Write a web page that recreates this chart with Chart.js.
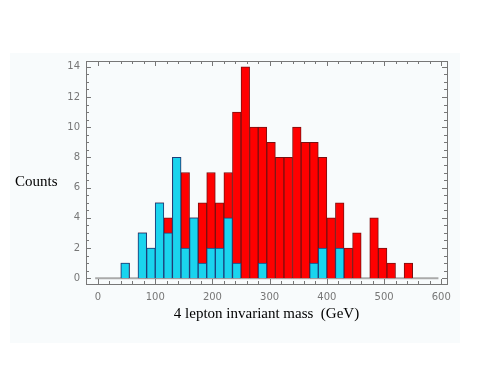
<!DOCTYPE html>
<html>
<head>
<meta charset="utf-8">
<script src="https://cdn.jsdelivr.net/npm/chart.js@4"></script>
<style>
  body { margin: 0; background: #fff; }
</style>
</head>
<body>
<canvas id="chart" width="479" height="370"></canvas>
<script>
// bin centres (15 GeV bins starting at 40)
const binStart = [40,55,70,85,100,115,130,145,160,175,190,205,220,235,250,265,280,295,310,325,340,355,370,385,400,415,430,445,460,475,490,505,520,535];
// total counts (red) and background counts (cyan)
const totalCounts = [1,0,3,2,5,4,8,7,4,5,7,5,7,11,14,10,10,9,8,8,10,9,9,8,4,5,2,3,0,4,2,1,0,1];
const bgCounts    = [1,0,3,2,5,3,8,2,4,1,2,2,4,1,0,0,1,0,0,0,0,0,1,2,0,2,0,0,0,0,0,0,0,0];
const baseline = [-5, 595];
const xTicks = [0,100,200,300,400,500,600];
const yTicks = [0,2,4,6,8,10,12,14];

const binWidth = 15;
const toPts = arr => arr.map((v, i) => ({x: binStart[i] + binWidth / 2, y: v}));

const frame = {
  id: 'frame',
  beforeDraw(chart) {
    const c = chart.ctx;
    c.save();
    c.fillStyle = '#f8fbfc';
    c.fillRect(10, 53, 450, 290);
    c.restore();
  },
  afterDraw(chart) {
    const c = chart.ctx, a = chart.chartArea;
    const xs = chart.scales.x, ys = chart.scales.y;
    c.save();
    c.strokeStyle = '#777';
    c.lineWidth = 1;
    c.strokeRect(a.left + 0.5, a.top + 0.5, a.right - a.left, a.bottom - a.top);
    c.beginPath();
    for (let v = 0; v <= 600; v += 20) {
      const px = Math.round(xs.getPixelForValue(v)) + 0.5;
      const len = v % 100 === 0 ? 5 : 3;
      c.moveTo(px, a.bottom); c.lineTo(px, a.bottom - len);
      c.moveTo(px, a.top); c.lineTo(px, a.top + len);
    }
    for (let v = 0; v <= 14; v += 0.5) {
      const py = Math.round(ys.getPixelForValue(v)) + 0.5;
      const len = v % 2 === 0 ? 5 : 3;
      c.moveTo(a.left, py); c.lineTo(a.left + len, py);
      c.moveTo(a.right, py); c.lineTo(a.right - len, py);
    }
    c.stroke();
    c.fillStyle = '#000';
    c.font = '15px "Liberation Serif", serif';
    c.textBaseline = 'middle';
    c.textAlign = 'left';
    c.fillText('Counts', 15, 182);
    c.textAlign = 'center';
    c.fillText('4 lepton invariant mass  (GeV)', (a.left + a.right) / 2, 314);
    c.restore();
  }
};

new Chart(document.getElementById('chart'), {
  type: 'bar',
  data: {
    datasets: [
      {
        label: 'background',
        data: toPts(bgCounts),
        backgroundColor: '#1ad4ee',
        borderColor: '#1d3f7a',
        borderWidth: 1,
        grouped: false,
        order: 0
      },
      {
        label: 'total',
        data: toPts(totalCounts),
        backgroundColor: '#ff0000',
        borderColor: '#7a1010',
        borderWidth: 1,
        grouped: false,
        order: 1
      },
      {
        type: 'line',
        label: 'baseline',
        data: baseline.map(x => ({x: x, y: 0})),
        borderColor: '#aaaaaa',
        borderWidth: 2,
        pointRadius: 0,
        order: 2
      }
    ]
  },
  options: {
    responsive: false,
    animation: false,
    categoryPercentage: 1,
    barPercentage: 1,
    layout: { padding: { left: 0, right: 32, top: 61, bottom: 0 } },
    plugins: { legend: { display: false }, tooltip: { enabled: false } },
    scales: {
      x: {
        type: 'linear',
        min: -21,
        max: 610,
        offset: false,
        grid: { display: false, drawTicks: false, offset: false },
        border: { display: false },
        afterBuildTicks: s => { s.ticks = xTicks.map(v => ({value: v})); },
        afterFit: s => { s.height = 86; },
        ticks: { color: '#777', font: { family: 'DejaVu Sans', size: 10 }, padding: 7, maxRotation: 0 }
      },
      y: {
        min: -0.38,
        max: 14.38,
        grid: { display: false, drawTicks: false },
        border: { display: false },
        afterBuildTicks: s => { s.ticks = yTicks.map(v => ({value: v})); },
        afterFit: s => { s.width = 86; },
        ticks: { color: '#777', font: { family: 'DejaVu Sans', size: 10 }, padding: 6 }
      }
    }
  },
  plugins: [frame]
});
</script>
</body>
</html>
